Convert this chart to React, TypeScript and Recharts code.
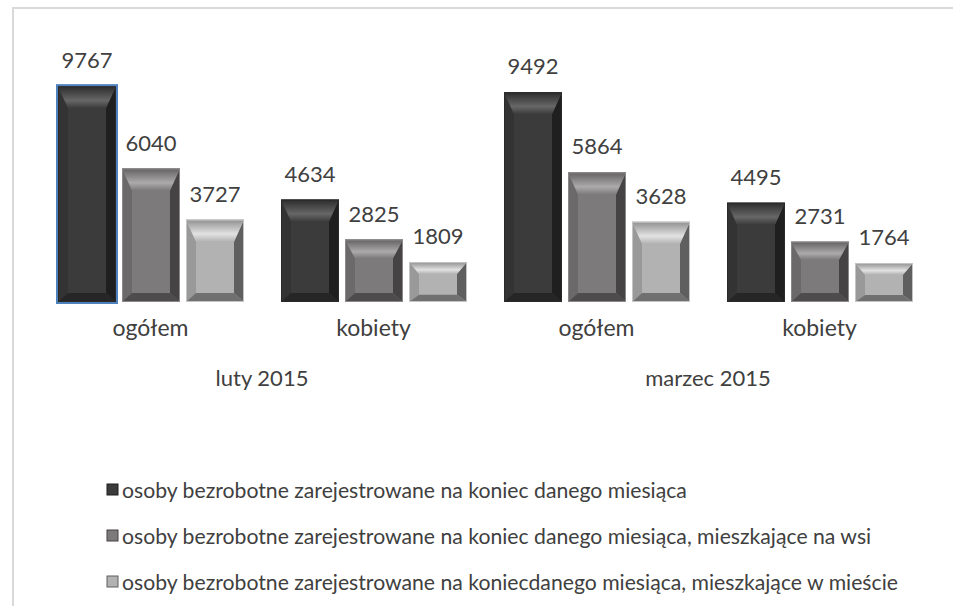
import { Bar, BarChart, LabelList, Legend, XAxis, YAxis } from "recharts";

const CATEGORIES = ["ogółem", "kobiety", "ogółem", "kobiety"];
const MONTHS = ["luty 2015", "luty 2015", "marzec 2015", "marzec 2015"];
const TOTAL = [9767, 4634, 9492, 4495];
const RURAL = [6040, 2825, 5864, 2731];
const URBAN = [3727, 1809, 3628, 1764];
const SERIES_NAMES = [
  "osoby bezrobotne zarejestrowane na koniec danego miesiąca",
  "osoby bezrobotne zarejestrowane na koniec danego miesiąca, mieszkające na wsi",
  "osoby bezrobotne zarejestrowane na koniecdanego miesiąca, mieszkające w mieście",
];

const data = CATEGORIES.map((group, i) => ({
  group,
  month: MONTHS[i],
  total: TOTAL[i],
  rural: RURAL[i],
  urban: URBAN[i],
}));

const FONT = "Lato, 'Open Sans', sans-serif";
const TEXT = "#404040";

type Palette = {
  face: string;
  left: string;
  right: string;
  bottom: string;
  topA: string;
  topB: string;
  edge: string;
};

const DARK: Palette = { face: "#3b3b3b", left: "#333333", right: "#1f1f1f", bottom: "#262626", topA: "#2b2b2b", topB: "#676767", edge: "#2a2a2a" };
const MID: Palette = { face: "#7c7a7a", left: "#6b6969", right: "#454343", bottom: "#4e4c4c", topA: "#626060", topB: "#acaaaa", edge: "#8a8888" };
const LIGHT: Palette = { face: "#b2b2b2", left: "#999999", right: "#5f5f5f", bottom: "#707070", topA: "#8f8f8f", topB: "#e2e2e2", edge: "#c4c4c4" };

// bevelled bar like the Excel "relaxed inset" effect
function bevel(pal: Palette, id: string, selected = -1) {
  return (props: any) => {
    const { x, y, width: w, height: h, index } = props;
    if (!h || h <= 0) return <g />;
    const s = Math.min(10, w * 0.18);
    const t = Math.min(22, h * 0.3);
    const b = Math.min(9, h * 0.18);
    const x2 = x + w;
    const y2 = y + h;
    const gid = `${id}-top-${index}`;
    return (
      <g>
        <defs>
          <linearGradient id={gid} x1="0" y1="0" x2="0" y2="1">
            <stop offset="0%" stopColor={pal.topA} />
            <stop offset="65%" stopColor={pal.topB} />
            <stop offset="100%" stopColor={pal.face} />
          </linearGradient>
        </defs>
        <rect x={x} y={y} width={w} height={h} fill={pal.face} />
        <polygon points={`${x},${y} ${x + s},${y + t} ${x + s},${y2 - b} ${x},${y2}`} fill={pal.left} />
        <polygon points={`${x2},${y} ${x2},${y2} ${x2 - s},${y2 - b} ${x2 - s},${y + t}`} fill={pal.right} />
        <polygon points={`${x},${y2} ${x + s},${y2 - b} ${x2 - s},${y2 - b} ${x2},${y2}`} fill={pal.bottom} />
        <polygon points={`${x},${y} ${x2},${y} ${x2 - s},${y + t} ${x + s},${y + t}`} fill={`url(#${gid})`} />
        <rect x={x + 0.5} y={y + 0.5} width={w - 1} height={h - 1} fill="none" stroke={pal.edge} strokeWidth={1} />
        {index === selected && (
          <rect x={x - 1} y={y - 1} width={w + 2} height={h + 2} fill="none" stroke="#4f81bd" strokeWidth={2} />
        )}
      </g>
    );
  };
}

function GroupTick(props: any) {
  const { x, y, payload } = props;
  return (
    <text x={x} y={y + 34} textAnchor="middle" fill={TEXT} fontFamily={FONT} fontSize={23}>
      {payload.value}
    </text>
  );
}

function MonthTick(props: any) {
  const { x, y, payload } = props;
  return (
    <text x={x} y={y + 24} textAnchor="middle" fill={TEXT} fontFamily={FONT} fontSize={22}>
      {payload.value}
    </text>
  );
}

const MARKERS = [DARK, MID, LIGHT];

function LegendBox() {
  return (
    <svg width={953} height={136}>
      {SERIES_NAMES.map((name, i) => {
        const base = 28 + i * 46;
        return (
          <g key={name}>
            <rect x={107} y={base - 14} width={11} height={11} fill={MARKERS[i].face} stroke={MARKERS[i].right} strokeWidth={1} />
            <text x={122} y={base} fill={TEXT} fontFamily={FONT} fontSize={21.2}>
              {name}
            </text>
          </g>
        );
      })}
    </svg>
  );
}

export default function App() {
  return (
    <div style={{ position: "relative", width: 953, height: 606, overflow: "hidden", background: "#fff" }}>
      <style>{"body{margin:0}"}</style>
      <div style={{ position: "absolute", left: 12, top: 7, width: 941, height: 2, background: "#d9d9d9" }} />
      <div style={{ position: "absolute", left: 12, top: 7, width: 2, height: 599, background: "#d9d9d9" }} />
      <div style={{ position: "absolute", left: 0, top: 0 }}>
        <BarChart
          width={953}
          height={606}
          data={data}
          margin={{ top: 81, right: 22, bottom: 204, left: 39 }}
          barSize={58}
          barGap={6}
        >
          <XAxis xAxisId="group" dataKey="group" axisLine={false} tickLine={false} tickSize={0} tickMargin={0} height={60} tick={<GroupTick />} interval={0} />
          <XAxis
            xAxisId="month"
            dataKey="month"
            allowDuplicatedCategory={false}
            axisLine={false}
            tickLine={false}
            tickSize={0}
            tickMargin={0}
            height={40}
            tick={<MonthTick />}
            interval={0}
          />
          <YAxis hide domain={[0, 10000]} />
          <Legend
            layout="vertical"
            align="center"
            verticalAlign="middle"
            wrapperStyle={{ left: 0, top: 470, width: 953, height: 136 }}
            content={() => <LegendBox />}
          />
          <Bar xAxisId="group" dataKey="total" name={SERIES_NAMES[0]} fill={DARK.face} shape={bevel(DARK, "d", 0)} isAnimationActive={false}>
            <LabelList dataKey="total" position="top" offset={18} fill={TEXT} fontFamily={FONT} fontSize={22} />
          </Bar>
          <Bar xAxisId="group" dataKey="rural" name={SERIES_NAMES[1]} fill={MID.face} shape={bevel(MID, "m")} isAnimationActive={false}>
            <LabelList dataKey="rural" position="top" offset={18} fill={TEXT} fontFamily={FONT} fontSize={22} />
          </Bar>
          <Bar xAxisId="group" dataKey="urban" name={SERIES_NAMES[2]} fill={LIGHT.face} shape={bevel(LIGHT, "l")} isAnimationActive={false}>
            <LabelList dataKey="urban" position="top" offset={18} fill={TEXT} fontFamily={FONT} fontSize={22} />
          </Bar>
        </BarChart>
      </div>
    </div>
  );
}
